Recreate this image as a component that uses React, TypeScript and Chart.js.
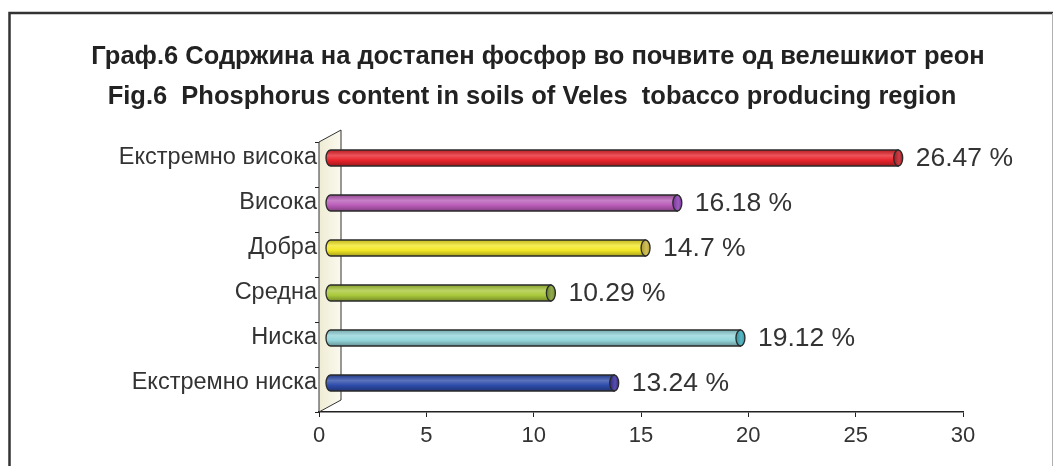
import React, { useEffect, useRef } from 'react';
import { Chart, registerables } from 'chart.js';

Chart.register(...registerables);

const titleLines = [
  'Граф.6 Содржина на достапен фосфор во почвите од велешкиот реон',
  'Fig.6  Phosphorus content in soils of Veles  tobacco producing region',
];
const categories = ['Екстремно висока', 'Висока', 'Добра', 'Средна', 'Ниска', 'Екстремно ниска'];
const values = [26.47, 16.18, 14.7, 10.29, 19.12, 13.24];
const valueSuffix = ' %';
const barColors = ['#e8232b', '#b95cb8', '#f2e726', '#a9c83a', '#93d5da', '#2d4ba9'];
const capColors = ['#c01e26', '#8d3fb4', '#c9b53c', '#7f9c2e', '#3ca9b8', '#3b2f9c'];
const xMin = 0;
const xMax = 30;
const xStep = 5;

const SANS = "'Liberation Sans', Arial, sans-serif";
const DX = 11;
const DY = -6.5;
const RX = 4.5;

function shade(hex: string, amt: number): string {
  const n = parseInt(hex.slice(1), 16);
  const r = n >> 16, g = (n >> 8) & 255, b = n & 255;
  const f = (c: number) => (amt < 0 ? Math.round(c * (1 + amt)) : Math.round(c + (255 - c) * amt));
  return `rgb(${f(r)},${f(g)},${f(b)})`;
}

const framePlugin = {
  id: 'frame',
  beforeDraw(chart: any) {
    const ctx = chart.ctx;
    ctx.save();
    ctx.fillStyle = '#ffffff';
    ctx.fillRect(0, 0, chart.width, chart.height);
    ctx.strokeStyle = '#333333';
    ctx.lineWidth = 2.5;
    ctx.beginPath();
    ctx.moveTo(9.5, chart.height);
    ctx.lineTo(9.5, 13);
    ctx.lineTo(chart.width, 13);
    ctx.stroke();
    ctx.strokeStyle = '#b0b0b0';
    ctx.lineWidth = 1;
    ctx.beginPath();
    ctx.moveTo(1052.5, 13);
    ctx.lineTo(1052.5, chart.height);
    ctx.stroke();
    ctx.restore();
  },
  afterDraw(chart: any) {
    const ctx = chart.ctx;
    ctx.save();
    ctx.font = `bold 25.5px ${SANS}`;
    ctx.fillStyle = '#222222';
    ctx.textAlign = 'center';
    ctx.textBaseline = 'middle';
    ctx.fillText(titleLines[0], 538, 57);
    ctx.fillText(titleLines[1], 532, 97);
    ctx.restore();
  },
};

const wallPlugin = {
  id: 'wall3d',
  beforeDatasetsDraw(chart: any) {
    const ctx = chart.ctx;
    const { left: L, top: T, bottom: B } = chart.chartArea;
    const wx = 22, wy = -12;
    ctx.save();
    const g = ctx.createLinearGradient(L, 0, L + wx, 0);
    g.addColorStop(0, '#efecd4');
    g.addColorStop(1, '#faf9ee');
    ctx.beginPath();
    ctx.moveTo(L, T);
    ctx.lineTo(L + wx, T + wy);
    ctx.lineTo(L + wx, B + wy);
    ctx.lineTo(L, B);
    ctx.closePath();
    ctx.fillStyle = g;
    ctx.fill();
    ctx.strokeStyle = '#333333';
    ctx.lineWidth = 1;
    ctx.stroke();
    ctx.restore();
  },
};

const cylinderPlugin = {
  id: 'cylinders',
  afterDatasetsDraw(chart: any) {
    const ctx = chart.ctx;
    const meta = chart.getDatasetMeta(0);
    meta.data.forEach((el: any, i: number) => {
      const p = el.getProps(['x', 'y', 'base', 'height'], true);
      const left = p.base + DX;
      const right = p.x + DX;
      const cy = p.y + DY;
      const h = p.height;
      const top = cy - h / 2;
      const bot = cy + h / 2;
      const c = barColors[i];
      ctx.save();
      const g = ctx.createLinearGradient(0, top, 0, bot);
      g.addColorStop(0, shade(c, -0.2));
      g.addColorStop(0.35, shade(c, 0.22));
      g.addColorStop(0.65, c);
      g.addColorStop(1, shade(c, -0.3));
      ctx.beginPath();
      ctx.moveTo(left, top);
      ctx.lineTo(right, top);
      ctx.lineTo(right, bot);
      ctx.lineTo(left, bot);
      ctx.ellipse(left, cy, RX, h / 2, 0, Math.PI / 2, Math.PI * 1.5);
      ctx.closePath();
      ctx.fillStyle = g;
      ctx.fill();
      ctx.strokeStyle = '#2a2a2a';
      ctx.lineWidth = 1.3;
      ctx.stroke();
      const cc = capColors[i];
      const g2 = ctx.createLinearGradient(right - RX, 0, right + RX, 0);
      g2.addColorStop(0, shade(cc, -0.15));
      g2.addColorStop(0.6, shade(cc, 0.15));
      g2.addColorStop(1, shade(cc, -0.1));
      ctx.beginPath();
      ctx.ellipse(right, cy, RX, h / 2, 0, 0, Math.PI * 2);
      ctx.fillStyle = g2;
      ctx.fill();
      ctx.stroke();
      ctx.restore();
    });
  },
  afterDraw(chart: any) {
    const ctx = chart.ctx;
    const meta = chart.getDatasetMeta(0);
    ctx.save();
    ctx.font = `26.5px ${SANS}`;
    ctx.fillStyle = '#333333';
    ctx.textAlign = 'left';
    ctx.textBaseline = 'middle';
    meta.data.forEach((el: any, i: number) => {
      const p = el.getProps(['x', 'y'], true);
      ctx.fillText(`${values[i]}${valueSuffix}`, p.x + DX + RX + 13, p.y + DY + 1);
    });
    ctx.restore();
  },
};

export default function App() {
  const ref = useRef<HTMLCanvasElement>(null);
  useEffect(() => {
    if (!ref.current) return;
    const chart = new Chart(ref.current, {
      type: 'bar',
      data: {
        labels: categories,
        datasets: [
          {
            data: values,
            backgroundColor: 'rgba(0,0,0,0)',
            borderWidth: 0,
            barThickness: 16,
          },
        ],
      },
      options: {
        indexAxis: 'y',
        animation: false,
        responsive: false,
        layout: { padding: { left: 0, right: 90, top: 142, bottom: 0 } },
        plugins: {
          legend: { display: false },
          tooltip: { enabled: false },
          title: { display: false },
        },
        scales: {
          x: {
            type: 'linear',
            min: xMin,
            max: xMax,
            ticks: { stepSize: xStep, color: '#333333', font: { family: SANS, size: 22 }, padding: 6 },
            grid: { drawOnChartArea: false, drawTicks: true, tickLength: 5, color: '#222222' },
            border: { color: '#222222', width: 1.5 },
            afterFit: (s: any) => { s.height = 54; },
          },
          y: {
            type: 'category',
            ticks: { color: '#333333', font: { family: SANS, size: 23.5 }, padding: -2, labelOffset: DY },
            grid: { drawOnChartArea: false, drawTicks: true, tickLength: 4, offset: true, color: '#222222' },
            border: { color: '#222222', width: 1 },
            afterFit: (s: any) => { s.width = 319; },
          },
        },
      },
      plugins: [framePlugin, wallPlugin, cylinderPlugin],
    } as any);
    return () => chart.destroy();
  }, []);
  return (
    <div style={{ position: 'absolute', left: 0, top: 0, width: 1053, height: 466 }}>
      <canvas ref={ref} width={1053} height={466} style={{ display: 'block' }} />
    </div>
  );
}
